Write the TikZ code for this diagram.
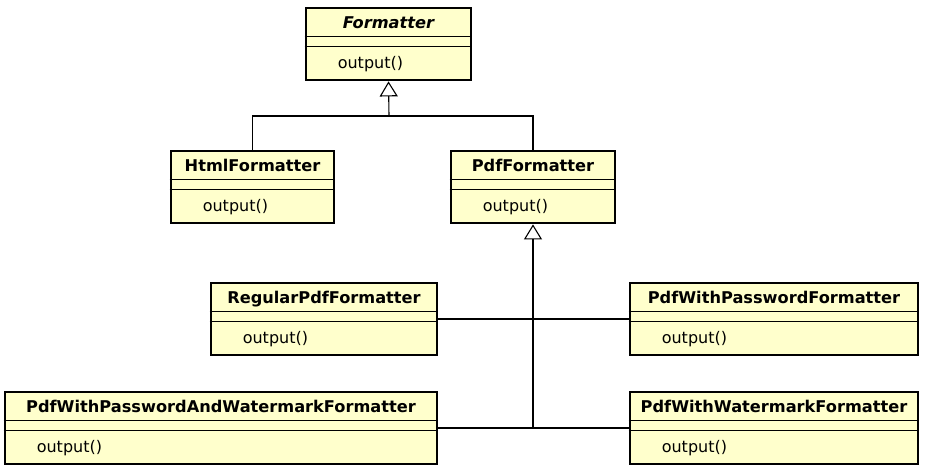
\documentclass[tikz,border=0pt]{standalone}
\usepackage{fontspec}
\setmainfont{DejaVu Sans}
\usetikzlibrary{arrows.meta,calc}
\definecolor{classfill}{rgb}{1.0,1.0,0.8}

\tikzset{
  classbox/.style={draw,fill=classfill,line width=2.8pt,rectangle,inner sep=0pt},
  sepline/.style={line width=1.1pt},
  classname/.style={font=\fontsize{16.2}{19}\selectfont\bfseries,inner sep=0pt,anchor=base},
  opname/.style={font=\fontsize{16}{19}\selectfont,inner sep=0pt,anchor=base west},
  link/.style={line width=1.1pt},
  inherit/.style={line width=1.1pt,-{Triangle[open,length=15pt,width=18pt,fill=white]}}
}

% #1 name, #2 left, #3 top, #4 right, #5 bottom, #6 title
\newcommand{\umlclass}[6]{%
  \node[classbox,minimum width={(#4-#2)*1pt},minimum height={(#5-#3)*1pt}] (#1) at ({(#2+#4)/2},{(#3+#5)/2}) {};
  \draw[sepline] ([yshift=-30pt]#1.north west) -- ([yshift=-30pt]#1.north east);
  \draw[sepline] ([yshift=-39.5pt]#1.north west) -- ([yshift=-39.5pt]#1.north east);
  \node[classname] (#1name) at ([yshift=-21.5pt]#1.north) {#6};
  \node[opname] (#1op) at ([xshift=33pt,yshift=-61.5pt]#1.north west) {output()};
}

\begin{document}
\begin{tikzpicture}[x=1pt,y=-1pt]
    \useasboundingbox (0,0) rectangle (939,471);

    % class boxes
    \umlclass{formatter}{306}{8}{471}{80}{\itshape Formatter}
    \umlclass{html}{171}{151}{334}{223}{HtmlFormatter}
    \umlclass{pdf}{451}{151}{615}{223}{PdfFormatter}
    \umlclass{regular}{211}{283}{437}{355}{RegularPdfFormatter}
    \umlclass{pwd}{630}{283}{918}{355}{PdfWithPasswordFormatter}
    \umlclass{pwdwm}{5}{392}{437}{464}{PdfWithPasswordAndWatermarkFormatter}
    \umlclass{wm}{630}{392}{918}{464}{PdfWithWatermarkFormatter}

    % generalisation to Formatter
    \coordinate (split) at (389,116);
    \draw[link] (html.north) |- (split) -| (pdf.north);
    \draw[inherit] (split) -- (formatter.south);

    % generalisation to PdfFormatter
    \draw[inherit] (pdf.south |- wm.west) -- (pdf.south);
    \draw[link] (regular.east) -- (pwd.west);
    \draw[link] (pwdwm.east) -- (wm.west);

\end{tikzpicture}
\end{document}
